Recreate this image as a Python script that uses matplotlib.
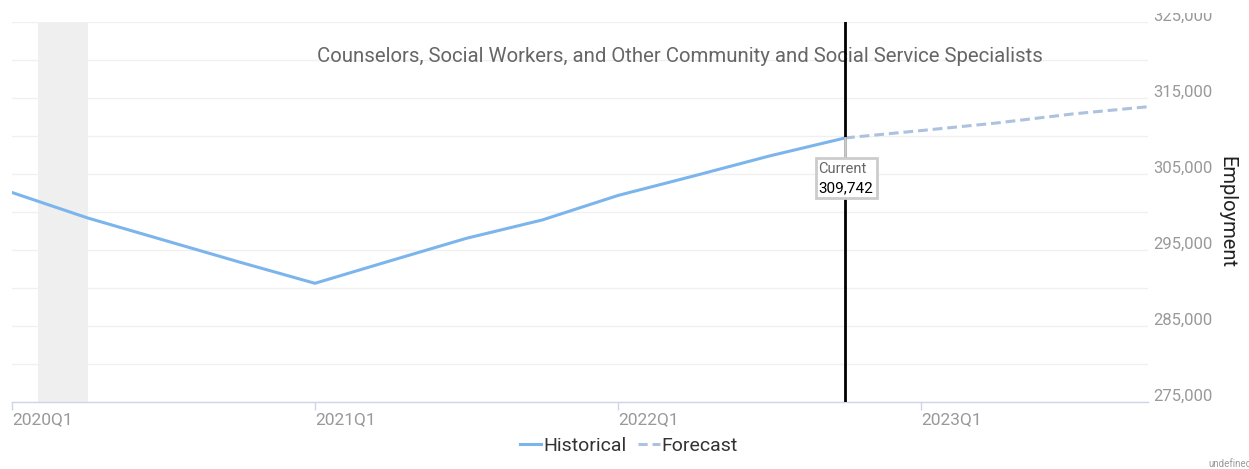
import matplotlib
matplotlib.use("Agg")
import matplotlib.pyplot as plt
import matplotlib.transforms as mtransforms
from matplotlib.lines import Line2D
from matplotlib.patches import Rectangle

plt.rcParams['font.family'] = ['Roboto', 'DejaVu Sans']

quarters = ["2020Q1", "2020Q2", "2020Q3", "2020Q4",
            "2021Q1", "2021Q2", "2021Q3", "2021Q4",
            "2022Q1", "2022Q2", "2022Q3", "2022Q4",
            "2023Q1", "2023Q2", "2023Q3", "2023Q4"]
historical = [302566, 299211, 296316, 293421,
              290618, 293592, 296539, 298947,
              302171, 304737, 307368, 309742]
forecast = [309742, 310711, 311711, 312895, 313855]
current_value = 309742
recession_start = 0.34
recession_end = 1.0
title = "Counselors, Social Workers, and Other Community and Social Service Specialists"
y_gridlines = list(range(275000, 325001, 5000))
y_labels = list(range(275000, 325001, 10000))

W, H = 1249, 469
fig = plt.figure(figsize=(W / 100, H / 100), dpi=100)
ax = fig.add_axes([12 / W, (H - 402) / H, (1148 - 12) / W, (402 - 22) / H])

x_hist = list(range(len(historical)))
cur_idx = len(historical) - 1
x_fc = list(range(cur_idx, cur_idx + len(forecast)))

ax.set_xlim(0, len(quarters) - 1)
ax.set_ylim(y_gridlines[0], y_gridlines[-1])

# recession band
ax.axvspan(recession_start, recession_end, color='#efefef', zorder=0, lw=0)

# grid
for g in y_gridlines:
    ax.axhline(g, color='#f0f0f0', lw=1, zorder=1)

ax.plot(x_hist, historical, color='#7cb5ec', lw=2.2, zorder=3,
        solid_joinstyle='round')
ax.plot(x_fc, forecast, color='#adc2df', lw=2.2, ls=(0, (3.2, 1.6)), zorder=3)

# current marker line
ax.axvline(cur_idx, color='black', lw=2, zorder=4)

# "Current" label box, placed in pixels below the current point
ident = mtransforms.IdentityTransform()
px, py = ax.transData.transform((cur_idx, current_value))
ax.plot([px, px], [py, py - 21], color='#cccccc', lw=2, zorder=5,
        transform=ident, clip_on=False)
ax.add_patch(Rectangle((px - 29, py - 60), 61, 40, fc='white', ec='#cccccc',
                       lw=2, zorder=6, transform=ident, clip_on=False))
ax.text(px - 27, py - 31, "Current", transform=ident,
        ha='left', va='center', fontsize=10.5, color='#666666', zorder=7)
ax.text(px - 27, py - 50, f"{current_value:,}", transform=ident,
        ha='left', va='center', fontsize=11, color='#000000', zorder=7)

# title
ax.text(0.5876, 0.91, title, transform=ax.transAxes, ha='center', va='center',
        fontsize=14.7, color='#666666')

# spines
for s in ['top', 'left', 'right']:
    ax.spines[s].set_visible(False)
ax.spines['bottom'].set_color('#ccd6eb')
ax.spines['bottom'].set_linewidth(1)

# x ticks
year_ticks = [i for i, q in enumerate(quarters) if q.endswith("Q1")]
ax.set_xticks(year_ticks)
ax.set_xticklabels([quarters[i] for i in year_ticks], ha='left')
ax.tick_params(axis='x', colors='#ccd6eb', length=6, width=1,
               labelcolor='#999999', labelsize=12.5, pad=1)

# y ticks on right
ax.yaxis.tick_right()
ax.set_yticks(y_labels)
ax.set_yticklabels([f"{v:,}" for v in y_labels])
ax.tick_params(axis='y', length=0, labelcolor='#999999', labelsize=12, pad=4)
shift = mtransforms.ScaledTranslation(0, 7 / 100, fig.dpi_scale_trans)
for lbl in ax.get_yticklabels():
    lbl.set_transform(lbl.get_transform() + shift)
ax.yaxis.set_label_position('right')
ax.set_ylabel("Employment", rotation=270, fontsize=14.5, color='#222222',
              labelpad=3)
ax.yaxis.label.set_verticalalignment('bottom')

# legend
handles = [Line2D([0], [0], color='#7cb5ec', lw=2.2),
           Line2D([0], [0], color='#adc2df', lw=2.2, ls=(0, (3, 1.6)))]
fig.legend(handles, ["Historical", "Forecast"], loc='center',
           bbox_to_anchor=(629 / W, (H - 446) / H), ncol=2, frameon=False,
           fontsize=14, handlelength=1.1, handletextpad=0.1, columnspacing=0.6,
           labelcolor='#333333')

fig.text(1208 / W, (H - 464) / H, "undefined", fontsize=7, color='#999999',
         ha='left', va='center')

# the top y label is cut off in the original
fig.patches.append(Rectangle((0.9, 1 - 13 / H), 0.1, 13 / H,
                             transform=fig.transFigure, fc='white', ec='none',
                             zorder=10))

fig.savefig("out.png", dpi=100)
